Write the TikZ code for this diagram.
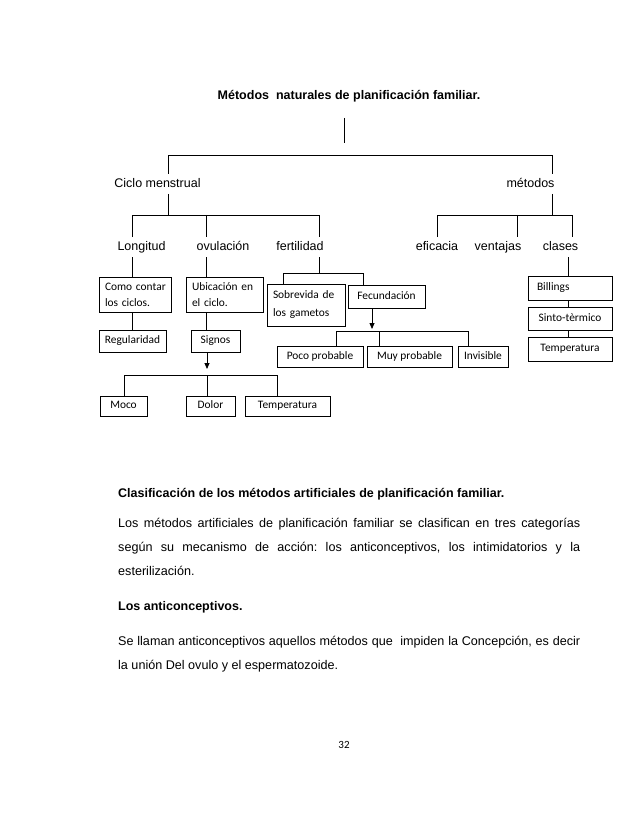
\documentclass[tikz,border=0pt]{standalone}
\usepackage{fontspec}
\setmainfont{Liberation Sans}
\newfontfamily\calibri{Carlito}
\usetikzlibrary{arrows.meta}
\begin{document}
\begin{tikzpicture}[x=1pt,y=-1pt,
    ln/.style={line width=0.8pt},
    arr/.style={line width=0.8pt,-{Triangle[length=6pt,width=5pt]}},
    lbl/.style={font=\fontsize{12.5}{15}\selectfont,inner xsep=1pt,inner ysep=4pt,text height=9pt,text depth=2.6pt},
    ttl/.style={font=\bfseries\fontsize{12.5}{15}\selectfont,inner sep=0pt},
    body/.style={font=\frenchspacing\fontsize{12.6}{15}\selectfont,inner sep=0pt,anchor=base west},
    bxbase/.style={draw,line width=0.8pt,inner sep=0pt},
    bx/.style={bxbase,font=\calibri\fontsize{11.4}{16}\selectfont,text height=8pt,text depth=2.6pt},
    bxl/.style={bxbase,font=\calibri\fontsize{11.4}{16}\selectfont,align=left,inner xsep=6pt}]
    \fill[white] (0,0) rectangle (638,826);
    \useasboundingbox (0,0) rectangle (638,826);
    \node[ttl] (titulo) at (349,96) {Métodos~ naturales de planificación familiar.};
    \coordinate (t0) at (344,118);
    \coordinate (t1) at (344,143);
    \draw[ln] (t0) -- (t1);
    \node[lbl] (ciclo) at (157.5,184) {Ciclo menstrual};
    \node[lbl] (metodos) at (530.5,184) {métodos};
    \coordinate (h1a) at (168,155);
    \coordinate (h1b) at (552,155);
    \draw[ln] (h1a |- ciclo.north) -- (h1a) -- (h1b) -- (h1b |- metodos.north);
    \node[lbl] (longitud) at (141.5,247) {Longitud};
    \node[lbl] (ovulacion) at (223,247) {ovulación};
    \node[lbl] (fertilidad) at (300,247) {fertilidad};
    \node[lbl] (eficacia) at (437,247) {eficacia};
    \node[lbl] (ventajas) at (498,247) {ventajas};
    \node[lbl] (clases) at (560.5,247) {clases};
    \coordinate (h2a) at (132,215);
    \coordinate (h2b) at (206,215);
    \coordinate (h2c) at (319,215);
    \coordinate (h2d) at (437,215);
    \coordinate (h2e) at (517,215);
    \coordinate (h2f) at (572,215);
    \draw[ln] (h1a |- ciclo.south) -- (h1a |- h2a);
    \draw[ln] (h2a |- longitud.north) -- (h2a) -- (h2c) -- (h2c |- fertilidad.north);
    \draw[ln] (h2b) -- (h2b |- ovulacion.north);
    \draw[ln] (h1b |- metodos.south) -- (h1b |- h2d);
    \draw[ln] (h2d |- eficacia.north) -- (h2d) -- (h2f) -- (h2f |- clases.north);
    \draw[ln] (h2e) -- (h2e |- ventajas.north);
    \node[bxl,text width=60pt,minimum height=35pt] (como) at (135,294.5) {\mbox{Como contar}\\los ciclos.};
    \node[bxl,text width=65pt,minimum height=35pt] (ubicacion) at (224.5,294.5) {\mbox{Ubicación en}\\el ciclo.};
    \node[bxl,text width=66pt,minimum height=42pt,font=\calibri\fontsize{11.4}{18}\selectfont] (sobrevida) at (306,305) {\mbox{Sobrevida de}\\los gametos};
    \node[bx,minimum width=77pt,minimum height=23pt] (fecundacion) at (386.5,296.5) {Fecundación};
    \draw[ln] (h2a |- longitud.south) -- (h2a |- como.north);
    \draw[ln] (h2b |- ovulacion.south) -- (h2b |- ubicacion.north);
    \coordinate (h3a) at (283,273);
    \coordinate (h3b) at (363,273);
    \draw[ln] (h2c |- fertilidad.south) -- (h2c |- h3a);
    \draw[ln] (h3a |- sobrevida.north) -- (h3a) -- (h3b) -- (h3b |- fecundacion.north);
    \node[bx,minimum width=67pt,minimum height=22pt] (regularidad) at (132.5,341) {Regularidad};
    \node[bx,minimum width=49pt,minimum height=22pt] (signos) at (215.5,341) {Signos};
    \draw[ln] (h2a |- como.south) -- (h2a |- regularidad.north);
    \draw[ln] (h2b |- ubicacion.south) -- (h2b |- signos.north);
    \coordinate (a1) at (207,369);
    \draw[arr] (a1 |- signos.south) -- (a1);
    \coordinate (h5a) at (124,375);
    \coordinate (h5b) at (207,375);
    \coordinate (h5c) at (277,375);
    \node[bx,minimum width=47pt,minimum height=20pt] (moco) at (123.5,406) {Moco};
    \node[bx,minimum width=49pt,minimum height=20pt] (dolor) at (210.5,406) {Dolor};
    \node[bx,minimum width=85pt,minimum height=20pt] (temp1) at (287.5,406) {Temperatura};
    \draw[ln] (h5a |- moco.north) -- (h5a) -- (h5c) -- (h5c |- temp1.north);
    \draw[ln] (h5b) -- (h5b |- dolor.north);
    \coordinate (a2) at (372,329);
    \draw[arr] (a2 |- fecundacion.south) -- (a2);
    \coordinate (h4a) at (336,331);
    \coordinate (h4b) at (379,331);
    \coordinate (h4c) at (468,331);
    \node[bx,minimum width=86pt,minimum height=21pt] (poco) at (320,356.5) {Poco probable};
    \node[bx,minimum width=85pt,minimum height=21pt] (muy) at (409.5,356.5) {Muy probable};
    \node[bx,minimum width=50pt,minimum height=21pt] (invisible) at (483,356.5) {Invisible};
    \draw[ln] (h4a |- poco.north) -- (h4a) -- (h4c) -- (h4c |- invisible.north);
    \draw[ln] (h4b) -- (h4b |- muy.north);
    \node[bxl,text width=66pt,inner xsep=9pt,minimum height=24pt,text height=8pt,text depth=2.6pt] (billings) at (570,288) {Billings};
    \node[bx,minimum width=84pt,minimum height=23pt] (sinto) at (570,318.5) {Sinto-tèrmico};
    \node[bx,minimum width=84pt,minimum height=24pt] (temp2) at (570,349) {Temperatura};
    \coordinate (c1) at (568,247);
    \draw[ln] (c1 |- clases.south) -- (c1 |- billings.north);
    \draw[ln] (c1 |- billings.south) -- (c1 |- sinto.north);
    \draw[ln] (c1 |- sinto.south) -- (c1 |- temp2.north);
    \node[body,font=\bfseries\fontsize{12.5}{15}\selectfont] (clasif) at (118,497) {Clasificación de los métodos artificiales de planificación familiar.};
    \node[body] (p1) at (118,527) {\makebox[462pt][s]{Los métodos artificiales de planificación familiar se clasifican en tres categorías}};
    \node[body] (p2) at (118,551) {\makebox[462pt][s]{según su mecanismo de acción: los anticonceptivos, los intimidatorios y la}};
    \node[body] (p3) at (118,575) {esterilización.};
    \node[body,font=\bfseries\fontsize{12.5}{15}\selectfont] (anticon) at (118,610) {Los anticonceptivos.};
    \node[body] (p4) at (118,645) {\makebox[462pt][s]{Se llaman anticonceptivos aquellos métodos que~ impiden la Concepción, es decir}};
    \node[body] (p5) at (118,669) {la unión Del ovulo y el espermatozoide.};
    \node[font=\calibri\fontsize{11}{13}\selectfont,inner sep=0pt] (pagina) at (344,745) {32};
\end{tikzpicture}
\end{document}
